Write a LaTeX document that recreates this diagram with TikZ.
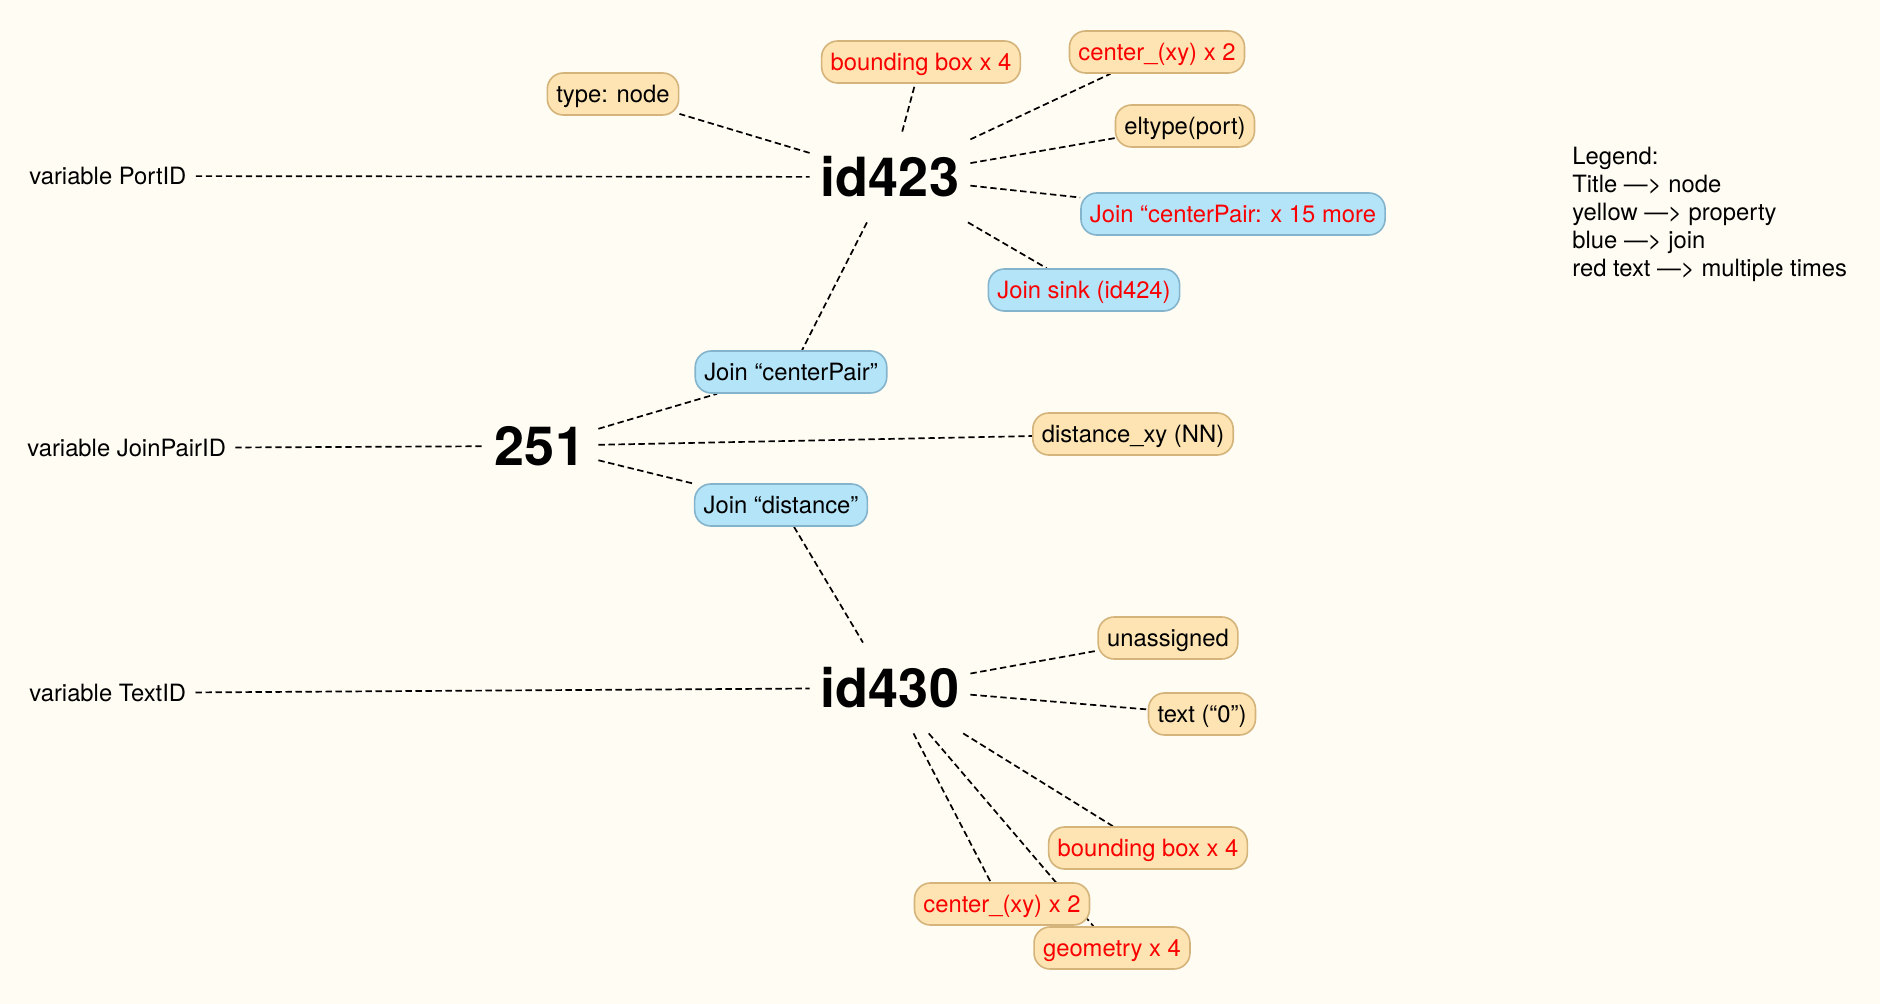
\documentclass[tikz,border=0pt]{standalone}
\usepackage{fontspec}
\setmainfont{TeX Gyre Heros}
\definecolor{bgcol}{RGB}{255,252,243}
\definecolor{propfill}{RGB}{253,228,178}
\definecolor{propborder}{RGB}{212,180,122}
\definecolor{joinfill}{RGB}{180,228,248}
\definecolor{joinborder}{RGB}{132,180,204}
\definecolor{multired}{RGB}{250,0,0}
\pgfdeclarelayer{back}
\pgfdeclarelayer{bg}
\pgfsetlayers{back,bg,main}
\tikzset{
  prop/.style={draw=propborder, fill=propfill, rounded corners=8pt, line width=0.8pt,
    minimum height=21pt, inner xsep=4.5pt, text height=8.5pt, text depth=0pt,
    font=\fontsize{11.9}{14}\selectfont, text=black},
  joinbox/.style={prop, draw=joinborder, fill=joinfill},
  multi/.style={text=multired},
  hub/.style={inner sep=0pt, minimum width=80pt, minimum height=45pt,
    font=\bfseries\fontsize{27}{30}\selectfont},
  varlabel/.style={inner xsep=4.5pt, inner ysep=2pt, text height=8.5pt, text depth=0pt,
    font=\fontsize{11.9}{14}\selectfont, anchor=west},
  conn/.style={dash pattern=on 3.2pt off 1.8pt, line width=0.85pt, black}
}
\begin{document}
\begin{tikzpicture}[x=0.5pt,y=-0.5pt]
\begin{pgfonlayer}{back}
\fill[bgcol] (0,0) rectangle (1880,1004);
\end{pgfonlayer}
\useasboundingbox (0,0) rectangle (1880,1004);

% hubs
\node[hub] (id423) at (890,177) {id423};
\node[hub, minimum width=58pt, minimum height=30pt] (n251) at (540,446) {251};
\node[hub] (id430) at (890,688) {id430};

% variable labels
\node[varlabel] (varport) at (20,176) {variable PortID};
\node[varlabel] (varjoin) at (18,448) {variable JoinPairID};
\node[varlabel] (vartext) at (20,693) {variable TextID};

% property / join boxes
\node[prop] (typenode) at (613,94) {type: node};
\node[prop, multi] (bb1) at (921,62) {bounding box x 4};
\node[prop, multi] (cxy1) at (1157,52) {center\_(xy) x 2};
\node[prop] (eltype) at (1185,126) {eltype(port)};
\node[joinbox, multi] (jcp15) at (1233,214) {Join “centerPair: x 15 more};
\node[joinbox, multi] (jsink) at (1084,290) {Join sink (id424)};
\node[joinbox] (jcp) at (791,372) {Join “centerPair”};
\node[prop] (dist) at (1133,434) {distance\_xy (NN)};
\node[joinbox] (jdist) at (781,505) {Join “distance”};
\node[prop] (unass) at (1168,638) {unassigned};
\node[prop] (text0) at (1202,714) {text (“0”)};
\node[prop, multi] (bb2) at (1148,848) {bounding box x 4};
\node[prop, multi] (cxy2) at (1002,904) {center\_(xy) x 2};
\node[prop, multi] (geom) at (1112,948) {geometry x 4};

% legend
\node[anchor=base west, align=left, inner sep=0pt, font=\fontsize{11.9}{14}\selectfont]
  (legend) at (1572,277) {Legend:\\Title —> node\\yellow —> property\\blue —> join\\red text —> multiple times};

% connectors
\begin{pgfonlayer}{bg}
\draw[conn] (varport) -- (id423);
\draw[conn] (id423) -- (typenode);
\draw[conn] (id423) -- (bb1);
\draw[conn] (id423) -- (cxy1);
\draw[conn] (id423) -- (eltype);
\draw[conn] (id423) -- (jcp15);
\draw[conn] (id423) -- (jsink);
\draw[conn] (id423) -- (jcp);
\draw[conn] (varjoin) -- (n251);
\draw[conn] (n251) -- (jcp);
\draw[conn] (n251) -- (dist);
\draw[conn] (n251) -- (jdist);
\draw[conn] (jdist) -- (id430);
\draw[conn] (vartext) -- (id430);
\draw[conn] (id430) -- (unass);
\draw[conn] (id430) -- (text0);
\draw[conn] (id430) -- (bb2);
\draw[conn] (id430) -- (cxy2);
\draw[conn] (id430) -- (geom);
\end{pgfonlayer}
\end{tikzpicture}
\end{document}
